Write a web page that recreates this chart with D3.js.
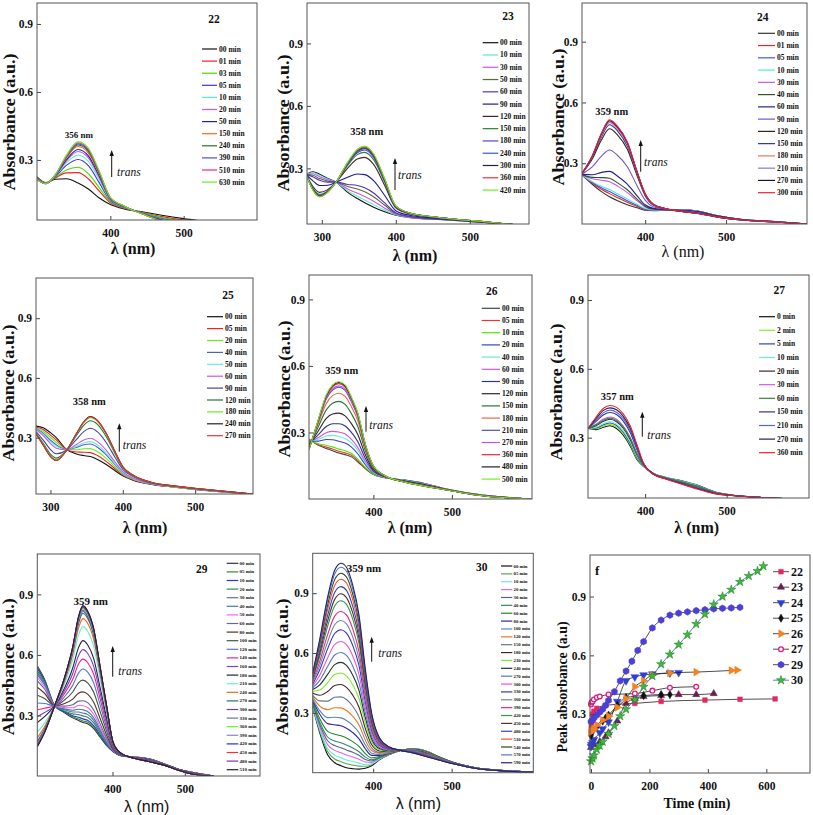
<!DOCTYPE html>
<html><head><meta charset="utf-8">
<script src="https://cdn.jsdelivr.net/npm/d3@7"></script>
<style>body{margin:0;background:#fff}svg{display:block}</style>
</head><body><svg id="c" width="813" height="815"></svg>
<script>
// ---------- DATA ----------
const wl22 = [300, 312, 325, 340, 356, 370, 385, 400, 420, 445, 470, 500, 530];
const lab22 = ["00 min","01 min","03 min","05 min","10 min","20 min","50 min","150 min","240 min","390 min","510 min","630 min"];
const abs22 = [
[0.225,0.200,0.215,0.217,0.198,0.172,0.132,0.103,0.083,0.070,0.056,0.041,0.028],
[0.222,0.199,0.220,0.243,0.244,0.217,0.162,0.111,0.086,0.068,0.050,0.035,0.022],
[0.220,0.198,0.223,0.256,0.268,0.240,0.177,0.115,0.088,0.066,0.046,0.031,0.019],
[0.218,0.197,0.226,0.276,0.302,0.275,0.199,0.121,0.090,0.064,0.041,0.026,0.015],
[0.217,0.197,0.229,0.287,0.322,0.294,0.212,0.125,0.091,0.063,0.038,0.023,0.012],
[0.216,0.196,0.230,0.295,0.337,0.309,0.222,0.127,0.092,0.062,0.036,0.021,0.011],
[0.215,0.196,0.231,0.300,0.346,0.318,0.228,0.129,0.093,0.062,0.035,0.020,0.009],
[0.214,0.196,0.233,0.308,0.359,0.330,0.236,0.131,0.094,0.061,0.033,0.018,0.008],
[0.214,0.195,0.233,0.312,0.366,0.338,0.241,0.132,0.094,0.061,0.032,0.017,0.007],
[0.214,0.195,0.234,0.314,0.371,0.342,0.244,0.133,0.094,0.061,0.031,0.016,0.006],
[0.213,0.195,0.234,0.317,0.376,0.347,0.247,0.134,0.095,0.060,0.031,0.016,0.006],
[0.213,0.195,0.235,0.320,0.381,0.352,0.250,0.135,0.095,0.060,0.030,0.015,0.005]];
const col22 = ["#111111","#ee2222","#44dd00","#4433cc","#55eecc","#cc55ee","#222299","#ff6622","#227722","#4455dd","#ee2288","#66ee22"];

const wl23 = [280, 288, 297, 308, 320, 335, 348, 358, 370, 385, 400, 420, 450, 480, 520, 560];
const lab23 = ["00 min","10 min","30 min","50 min","60 min","90 min","120 min","150 min","180 min","240 min","300 min","360 min","420 min"];
const abs23 = [
[0.272,0.284,0.272,0.252,0.232,0.185,0.155,0.135,0.114,0.092,0.075,0.063,0.056,0.050,0.040,0.030],
[0.271,0.280,0.267,0.249,0.232,0.192,0.166,0.148,0.126,0.100,0.077,0.064,0.057,0.050,0.040,0.030],
[0.271,0.274,0.260,0.245,0.233,0.201,0.181,0.165,0.142,0.109,0.080,0.065,0.057,0.051,0.040,0.030],
[0.270,0.267,0.251,0.239,0.233,0.213,0.201,0.188,0.164,0.123,0.084,0.067,0.058,0.051,0.041,0.030],
[0.269,0.260,0.243,0.234,0.234,0.223,0.218,0.207,0.182,0.134,0.087,0.069,0.059,0.052,0.041,0.030],
[0.266,0.240,0.218,0.219,0.235,0.257,0.273,0.270,0.241,0.170,0.097,0.074,0.062,0.053,0.042,0.030],
[0.262,0.213,0.185,0.198,0.237,0.301,0.345,0.353,0.319,0.218,0.111,0.081,0.066,0.055,0.043,0.030],
[0.261,0.205,0.175,0.192,0.237,0.314,0.366,0.377,0.342,0.233,0.115,0.083,0.067,0.055,0.044,0.030],
[0.261,0.201,0.171,0.190,0.238,0.320,0.375,0.388,0.352,0.239,0.117,0.083,0.067,0.056,0.044,0.030],
[0.261,0.199,0.168,0.188,0.238,0.323,0.381,0.395,0.358,0.243,0.118,0.084,0.067,0.056,0.044,0.030],
[0.260,0.198,0.166,0.187,0.238,0.326,0.385,0.399,0.362,0.245,0.119,0.084,0.068,0.056,0.044,0.030],
[0.260,0.196,0.165,0.186,0.238,0.328,0.388,0.403,0.366,0.248,0.119,0.085,0.068,0.056,0.044,0.030],
[0.260,0.195,0.163,0.185,0.238,0.330,0.392,0.407,0.370,0.250,0.120,0.085,0.068,0.056,0.044,0.030]];
const col23 = ["#111111","#55eecc","#cc55ee","#5a6b3a","#5533bb","#1a1a99","#4a2424","#228833","#5544cc","#3355dd","#222244","#ee3333","#66ee22"];

const wl24 = [322, 335, 346, 356, 366, 378, 390, 400, 410, 425, 445, 465, 490, 520, 560, 600];
const lab24 = ["00 min","01 min","05 min","10 min","30 min","40 min","60 min","90 min","120 min","150 min","180 min","210 min","270 min","300 min"];
const abs24 = [
[0.242,0.195,0.160,0.135,0.115,0.095,0.080,0.068,0.066,0.068,0.070,0.064,0.040,0.022,0.012,0.0],
[0.242,0.201,0.172,0.150,0.130,0.107,0.087,0.071,0.067,0.068,0.070,0.064,0.040,0.022,0.012,0.0],
[0.243,0.205,0.179,0.160,0.139,0.115,0.092,0.073,0.068,0.069,0.069,0.063,0.040,0.022,0.012,0.0],
[0.243,0.208,0.186,0.170,0.149,0.124,0.097,0.076,0.069,0.069,0.069,0.063,0.039,0.022,0.012,0.0],
[0.244,0.223,0.216,0.209,0.187,0.155,0.115,0.084,0.072,0.070,0.068,0.062,0.039,0.022,0.012,0.0],
[0.244,0.230,0.229,0.226,0.203,0.169,0.123,0.088,0.074,0.070,0.068,0.061,0.039,0.022,0.012,0.0],
[0.245,0.243,0.255,0.260,0.236,0.197,0.139,0.095,0.077,0.071,0.067,0.060,0.038,0.021,0.011,0.0],
[0.247,0.283,0.335,0.365,0.338,0.283,0.189,0.118,0.085,0.073,0.065,0.057,0.036,0.021,0.011,0.0],
[0.249,0.323,0.415,0.470,0.439,0.369,0.239,0.140,0.094,0.075,0.063,0.053,0.035,0.020,0.010,0.0],
[0.249,0.331,0.430,0.490,0.459,0.385,0.249,0.145,0.096,0.075,0.063,0.053,0.034,0.020,0.010,0.0],
[0.250,0.335,0.437,0.500,0.468,0.394,0.253,0.147,0.097,0.076,0.062,0.052,0.034,0.020,0.010,0.0],
[0.250,0.337,0.441,0.505,0.473,0.398,0.256,0.148,0.097,0.076,0.062,0.052,0.034,0.020,0.010,0.0],
[0.250,0.338,0.445,0.510,0.478,0.402,0.258,0.149,0.098,0.076,0.062,0.052,0.034,0.020,0.010,0.0],
[0.250,0.340,0.448,0.514,0.482,0.405,0.260,0.150,0.098,0.076,0.062,0.052,0.034,0.020,0.010,0.0]];
const col24 = ["#333333","#ee2222","#4455dd","#55eecc","#cc55ee","#335522","#222288","#7755cc","#3a2222","#2233bb","#ee7755","#8877cc","#111144","#ee2233"];

const wl25 = [280, 290, 300, 308, 322, 336, 346, 355, 365, 377, 389, 400, 415, 440, 470, 510, 580];
const lab25 = ["00 min","05 min","20 min","40 min","50 min","60 min","90 min","120 min","180 min","240 min","270 min"];
const abs25 = [
[0.358,0.350,0.325,0.300,0.242,0.218,0.210,0.205,0.190,0.165,0.135,0.108,0.085,0.065,0.052,0.036,0.016],
[0.354,0.341,0.313,0.289,0.241,0.228,0.227,0.225,0.210,0.181,0.145,0.113,0.088,0.066,0.053,0.037,0.016],
[0.350,0.332,0.301,0.277,0.241,0.239,0.244,0.245,0.229,0.196,0.154,0.117,0.090,0.067,0.053,0.037,0.016],
[0.346,0.322,0.287,0.264,0.240,0.251,0.264,0.268,0.252,0.214,0.166,0.122,0.093,0.068,0.054,0.038,0.016],
[0.344,0.317,0.280,0.257,0.239,0.257,0.273,0.280,0.263,0.224,0.171,0.125,0.094,0.069,0.054,0.038,0.016],
[0.341,0.310,0.270,0.247,0.239,0.266,0.288,0.297,0.280,0.237,0.179,0.129,0.096,0.070,0.055,0.039,0.016],
[0.331,0.288,0.240,0.219,0.237,0.291,0.330,0.347,0.329,0.276,0.203,0.140,0.103,0.072,0.056,0.040,0.017],
[0.324,0.271,0.217,0.197,0.236,0.311,0.362,0.385,0.367,0.306,0.222,0.149,0.107,0.074,0.057,0.041,0.017],
[0.321,0.265,0.209,0.188,0.235,0.319,0.375,0.400,0.381,0.317,0.229,0.153,0.109,0.075,0.058,0.042,0.017],
[0.320,0.262,0.205,0.185,0.235,0.322,0.380,0.406,0.387,0.322,0.232,0.154,0.110,0.075,0.058,0.042,0.017],
[0.320,0.263,0.206,0.186,0.235,0.321,0.378,0.404,0.385,0.321,0.231,0.154,0.110,0.075,0.058,0.042,0.017]];
const col25 = ["#111111","#ee2222","#66ee22","#4466bb","#66eedd","#cc55ee","#444499","#227744","#66ee22","#222222","#ee3333"];

const wl26 = [318, 330, 340, 348, 356, 364, 372, 380, 390, 400, 415, 440, 465, 490, 530, 600];
const lab26 = ["00 min","05 min","10 min","20 min","40 min","60 min","90 min","120 min","150 min","180 min","210 min","270 min","360 min","480 min","500 min"];
const abs26 = [
[0.270,0.242,0.228,0.218,0.207,0.200,0.190,0.168,0.136,0.110,0.096,0.085,0.070,0.047,0.022,0.0],
[0.269,0.245,0.234,0.225,0.215,0.208,0.197,0.174,0.139,0.111,0.096,0.085,0.070,0.047,0.022,0.0],
[0.267,0.249,0.242,0.235,0.225,0.218,0.205,0.180,0.142,0.112,0.097,0.085,0.069,0.047,0.022,0.0],
[0.262,0.261,0.268,0.267,0.260,0.252,0.234,0.204,0.154,0.117,0.097,0.084,0.068,0.046,0.021,0.0],
[0.259,0.269,0.284,0.287,0.282,0.273,0.253,0.220,0.161,0.119,0.098,0.083,0.067,0.046,0.021,0.0],
[0.256,0.277,0.299,0.305,0.302,0.293,0.269,0.233,0.168,0.122,0.099,0.082,0.066,0.046,0.021,0.0],
[0.250,0.290,0.327,0.339,0.339,0.329,0.300,0.259,0.181,0.126,0.100,0.081,0.065,0.045,0.020,0.0],
[0.243,0.308,0.363,0.383,0.387,0.375,0.340,0.292,0.197,0.132,0.101,0.080,0.063,0.045,0.020,0.0],
[0.235,0.327,0.402,0.432,0.440,0.427,0.385,0.328,0.215,0.139,0.102,0.079,0.061,0.044,0.019,0.0],
[0.230,0.341,0.430,0.466,0.477,0.463,0.416,0.354,0.227,0.143,0.104,0.077,0.060,0.044,0.019,0.0],
[0.226,0.351,0.451,0.491,0.504,0.490,0.438,0.372,0.236,0.147,0.104,0.077,0.059,0.043,0.018,0.0],
[0.225,0.353,0.455,0.497,0.510,0.495,0.443,0.376,0.238,0.148,0.104,0.077,0.059,0.043,0.018,0.0],
[0.223,0.356,0.462,0.506,0.520,0.505,0.452,0.383,0.242,0.149,0.105,0.076,0.058,0.043,0.018,0.0],
[0.223,0.358,0.466,0.511,0.525,0.510,0.456,0.387,0.243,0.149,0.105,0.076,0.058,0.043,0.018,0.0],
[0.222,0.360,0.470,0.515,0.530,0.515,0.460,0.390,0.245,0.150,0.105,0.076,0.058,0.043,0.018,0.0]];
const col26 = ["#444444","#ee3333","#44ee00","#3344cc","#66eecc","#cc55ee","#333388","#332233","#227733","#ee6644","#4455bb","#bb55ee","#ee2244","#222222","#77ee22"];

const wl27 = [330, 340, 349, 357, 365, 373, 382, 390, 398, 410, 425, 445, 465, 485, 510, 540, 600];
const lab27 = ["0 min","2 min","5 min","10 min","20 min","30 min","60 min","150 min","210 min","270 min","360 min"];
const abs27 = [
[0.340,0.335,0.345,0.352,0.340,0.312,0.262,0.205,0.175,0.145,0.127,0.112,0.092,0.064,0.048,0.040,0.030],
[0.340,0.339,0.351,0.358,0.346,0.318,0.268,0.209,0.176,0.145,0.127,0.111,0.091,0.063,0.048,0.040,0.030],
[0.340,0.342,0.356,0.364,0.353,0.325,0.274,0.214,0.177,0.144,0.126,0.110,0.090,0.063,0.048,0.040,0.030],
[0.340,0.346,0.362,0.370,0.359,0.331,0.280,0.218,0.178,0.144,0.126,0.109,0.089,0.062,0.048,0.040,0.030],
[0.340,0.352,0.371,0.380,0.369,0.342,0.290,0.226,0.180,0.143,0.125,0.107,0.087,0.061,0.048,0.040,0.030],
[0.340,0.359,0.381,0.390,0.380,0.352,0.300,0.233,0.181,0.143,0.124,0.106,0.085,0.061,0.048,0.040,0.030],
[0.340,0.356,0.376,0.385,0.374,0.347,0.295,0.229,0.181,0.143,0.124,0.106,0.086,0.061,0.048,0.040,0.030],
[0.340,0.371,0.400,0.410,0.401,0.373,0.320,0.248,0.185,0.142,0.122,0.102,0.081,0.059,0.047,0.040,0.030],
[0.340,0.378,0.409,0.420,0.411,0.384,0.330,0.255,0.187,0.141,0.122,0.100,0.079,0.058,0.047,0.040,0.030],
[0.340,0.384,0.419,0.430,0.422,0.394,0.340,0.263,0.188,0.141,0.121,0.099,0.077,0.057,0.047,0.040,0.030],
[0.340,0.390,0.428,0.440,0.432,0.405,0.350,0.270,0.190,0.140,0.120,0.097,0.075,0.056,0.047,0.040,0.030]];
const col27 = ["#111111","#88ee22","#3344bb","#66eedd","#442233","#cc55ee","#338833","#333399","#5566cc","#222255","#ee2233"];

const wl29 = [296, 306, 320, 333, 345, 353, 359, 366, 374, 383, 392, 401, 412, 430, 450, 470, 490, 510, 540];
const lab29 = ["00 min","05 min","10 min","20 min","30 min","40 min","50 min","60 min","80 min","100 min","120 min","140 min","160 min","180 min","210 min","240 min","270 min","300 min","330 min","360 min","390 min","420 min","450 min","480 min","510 min"];
const abs29 = [
[0.545,0.480,0.348,0.315,0.288,0.275,0.265,0.258,0.235,0.192,0.150,0.120,0.100,0.094,0.085,0.062,0.035,0.018,0],
[0.539,0.476,0.348,0.317,0.293,0.282,0.273,0.266,0.242,0.197,0.153,0.121,0.100,0.094,0.085,0.062,0.035,0.018,0],
[0.533,0.472,0.348,0.320,0.299,0.291,0.283,0.275,0.250,0.203,0.156,0.121,0.100,0.094,0.085,0.062,0.035,0.018,0],
[0.522,0.465,0.348,0.324,0.308,0.304,0.298,0.290,0.263,0.212,0.161,0.123,0.101,0.094,0.084,0.062,0.035,0.018,0],
[0.512,0.458,0.348,0.329,0.317,0.317,0.312,0.304,0.276,0.221,0.166,0.124,0.101,0.094,0.084,0.061,0.035,0.017,0],
[0.502,0.451,0.348,0.333,0.326,0.331,0.328,0.318,0.288,0.230,0.171,0.125,0.101,0.093,0.084,0.061,0.034,0.017,0],
[0.488,0.442,0.348,0.339,0.338,0.349,0.348,0.338,0.306,0.242,0.178,0.126,0.102,0.093,0.083,0.061,0.034,0.017,0],
[0.471,0.431,0.348,0.346,0.353,0.371,0.373,0.362,0.327,0.257,0.186,0.128,0.102,0.093,0.083,0.061,0.034,0.017,0],
[0.440,0.410,0.348,0.358,0.381,0.410,0.417,0.404,0.365,0.284,0.201,0.132,0.103,0.092,0.082,0.060,0.034,0.016,0],
[0.400,0.384,0.348,0.375,0.416,0.462,0.475,0.460,0.415,0.318,0.221,0.136,0.104,0.092,0.080,0.059,0.033,0.015,0],
[0.362,0.359,0.348,0.390,0.449,0.510,0.530,0.513,0.461,0.351,0.239,0.141,0.105,0.091,0.079,0.059,0.033,0.014,0],
[0.328,0.336,0.348,0.405,0.479,0.555,0.579,0.560,0.504,0.381,0.256,0.144,0.107,0.091,0.078,0.058,0.032,0.014,0],
[0.295,0.315,0.348,0.418,0.508,0.596,0.626,0.606,0.544,0.409,0.272,0.148,0.107,0.090,0.077,0.058,0.032,0.013,0],
[0.265,0.294,0.348,0.431,0.535,0.636,0.671,0.648,0.582,0.436,0.287,0.152,0.108,0.090,0.076,0.057,0.031,0.012,0],
[0.217,0.262,0.348,0.450,0.577,0.698,0.740,0.715,0.641,0.478,0.310,0.157,0.110,0.089,0.074,0.056,0.031,0.011,0],
[0.189,0.244,0.348,0.462,0.601,0.733,0.780,0.754,0.676,0.502,0.324,0.160,0.111,0.089,0.073,0.056,0.031,0.011,0],
[0.172,0.233,0.348,0.469,0.616,0.755,0.805,0.778,0.697,0.517,0.332,0.162,0.111,0.088,0.073,0.055,0.030,0.011,0],
[0.165,0.228,0.348,0.472,0.622,0.764,0.815,0.787,0.705,0.523,0.335,0.163,0.111,0.088,0.073,0.055,0.030,0.010,0],
[0.160,0.225,0.348,0.474,0.627,0.770,0.822,0.794,0.711,0.527,0.338,0.163,0.112,0.088,0.072,0.055,0.030,0.010,0],
[0.156,0.222,0.348,0.476,0.630,0.776,0.828,0.800,0.717,0.531,0.340,0.164,0.112,0.088,0.072,0.055,0.030,0.010,0],
[0.153,0.220,0.348,0.477,0.633,0.780,0.833,0.804,0.721,0.533,0.341,0.164,0.112,0.088,0.072,0.055,0.030,0.010,0],
[0.150,0.218,0.348,0.478,0.636,0.784,0.837,0.808,0.724,0.536,0.343,0.164,0.112,0.088,0.072,0.055,0.030,0.010,0],
[0.148,0.217,0.348,0.479,0.638,0.786,0.840,0.811,0.727,0.538,0.344,0.165,0.112,0.088,0.072,0.055,0.030,0.010,0],
[0.146,0.216,0.348,0.480,0.639,0.788,0.842,0.813,0.729,0.539,0.344,0.165,0.112,0.088,0.072,0.055,0.030,0.010,0],
[0.145,0.215,0.348,0.480,0.640,0.790,0.844,0.815,0.730,0.540,0.345,0.165,0.112,0.088,0.072,0.055,0.030,0.010,0]];
const col29 = ["#333333","#338833","#3333cc","#338866","#557799","#4477bb","#ee66ee","#666699","#553322","#445544","#5577cc","#ee2288","#7744cc","#222244","#66eedd","#ee6622","#227766","#6644aa","#667799","#66ee22","#8888cc","#2233cc","#ee3333","#7733bb","#222222"];

const wl30 = [323, 332, 342, 351, 359, 366, 374, 382, 390, 398, 408, 420, 435, 452, 468, 485, 505, 530, 570, 603];
const lab30 = ["00 min","05 min","10 min","20 min","30 min","40 min","60 min","80 min","100 min","120 min","150 min","180 min","210 min","240 min","270 min","300 min","330 min","360 min","390 min","420 min","450 min","480 min","510 min","540 min","570 min","590 min"];
const abs30 = [
[0.330,0.200,0.090,0.050,0.035,0.025,0.020,0.018,0.022,0.035,0.065,0.090,0.112,0.120,0.108,0.078,0.048,0.025,0.010,0.003],
[0.333,0.209,0.106,0.069,0.055,0.045,0.038,0.033,0.032,0.040,0.067,0.091,0.112,0.120,0.107,0.078,0.048,0.025,0.010,0.003],
[0.337,0.218,0.121,0.088,0.075,0.064,0.056,0.048,0.041,0.045,0.069,0.092,0.112,0.119,0.107,0.077,0.048,0.025,0.010,0.003],
[0.341,0.230,0.141,0.112,0.100,0.089,0.079,0.067,0.054,0.052,0.072,0.093,0.112,0.119,0.106,0.077,0.048,0.025,0.010,0.003],
[0.345,0.242,0.160,0.136,0.125,0.114,0.102,0.087,0.066,0.059,0.075,0.094,0.112,0.118,0.106,0.077,0.047,0.025,0.010,0.003],
[0.349,0.253,0.179,0.159,0.150,0.139,0.124,0.105,0.078,0.065,0.077,0.095,0.112,0.118,0.105,0.076,0.047,0.025,0.010,0.003],
[0.355,0.270,0.207,0.193,0.185,0.174,0.156,0.132,0.096,0.074,0.081,0.096,0.112,0.117,0.104,0.076,0.047,0.025,0.010,0.003],
[0.363,0.293,0.246,0.240,0.235,0.223,0.201,0.170,0.120,0.087,0.087,0.098,0.112,0.116,0.102,0.075,0.047,0.024,0.010,0.003],
[0.370,0.311,0.276,0.278,0.275,0.262,0.237,0.200,0.140,0.098,0.091,0.099,0.112,0.115,0.101,0.074,0.047,0.024,0.010,0.003],
[0.379,0.334,0.316,0.326,0.325,0.312,0.283,0.239,0.164,0.111,0.096,0.101,0.112,0.114,0.100,0.073,0.046,0.024,0.009,0.003],
[0.388,0.360,0.359,0.378,0.380,0.367,0.333,0.280,0.191,0.125,0.102,0.104,0.112,0.113,0.098,0.073,0.046,0.024,0.009,0.003],
[0.398,0.388,0.407,0.437,0.442,0.428,0.389,0.328,0.222,0.141,0.109,0.106,0.112,0.111,0.097,0.072,0.046,0.024,0.009,0.003],
[0.408,0.415,0.452,0.492,0.500,0.485,0.441,0.372,0.250,0.156,0.115,0.108,0.112,0.110,0.095,0.071,0.045,0.024,0.009,0.003],
[0.417,0.440,0.493,0.542,0.553,0.538,0.489,0.412,0.276,0.170,0.121,0.110,0.112,0.109,0.094,0.070,0.045,0.023,0.009,0.003],
[0.425,0.463,0.532,0.590,0.603,0.588,0.535,0.450,0.301,0.183,0.127,0.112,0.112,0.108,0.092,0.069,0.045,0.023,0.009,0.003],
[0.434,0.489,0.575,0.643,0.658,0.642,0.585,0.492,0.328,0.198,0.133,0.115,0.112,0.106,0.091,0.068,0.044,0.023,0.009,0.003],
[0.444,0.516,0.621,0.698,0.717,0.700,0.638,0.537,0.357,0.213,0.139,0.117,0.112,0.105,0.089,0.067,0.044,0.023,0.009,0.003],
[0.452,0.537,0.656,0.742,0.763,0.746,0.680,0.571,0.379,0.225,0.144,0.119,0.112,0.104,0.088,0.067,0.044,0.023,0.009,0.003],
[0.460,0.558,0.692,0.785,0.808,0.791,0.721,0.606,0.401,0.237,0.149,0.120,0.112,0.103,0.087,0.066,0.043,0.023,0.008,0.003],
[0.469,0.583,0.734,0.836,0.862,0.844,0.770,0.647,0.428,0.251,0.155,0.123,0.112,0.102,0.085,0.065,0.043,0.023,0.008,0.003],
[0.474,0.599,0.761,0.869,0.897,0.878,0.801,0.673,0.445,0.260,0.158,0.124,0.112,0.101,0.084,0.064,0.043,0.022,0.008,0.003],
[0.480,0.616,0.789,0.904,0.933,0.914,0.834,0.701,0.463,0.270,0.162,0.125,0.112,0.101,0.083,0.064,0.043,0.022,0.008,0.003],
[0.487,0.633,0.818,0.939,0.970,0.951,0.867,0.729,0.481,0.279,0.166,0.127,0.112,0.100,0.082,0.063,0.042,0.022,0.008,0.003],
[0.492,0.647,0.841,0.968,1.000,0.981,0.895,0.752,0.496,0.287,0.170,0.128,0.112,0.099,0.081,0.063,0.042,0.022,0.008,0.003],
[0.497,0.661,0.864,0.996,1.030,1.010,0.922,0.775,0.510,0.295,0.173,0.129,0.112,0.098,0.081,0.062,0.042,0.022,0.008,0.003],
[0.500,0.670,0.880,1.015,1.050,1.030,0.940,0.790,0.520,0.300,0.175,0.130,0.112,0.098,0.080,0.062,0.042,0.022,0.008,0.003]];
const col30 = ["#111111","#55aa55","#66eedd","#dd66ee","#556688","#338866","#228822","#3322aa","#5588bb","#ee7722","#667788","#442222","#77ee22","#223333","#5577cc","#ee55cc","#3333cc","#6688aa","#ee2288","#339944","#553333","#3344bb","#ee5533","#334422","#5577cc","#222266"];

// panel f : peak absorbance vs time
const fNames = ["22","23","24","25","26","27","29","30"];
const fT22 = [0,1,3,5,10,20,50,150,240,390,510,630];
const fV22 = [0.21,0.24,0.265,0.30,0.315,0.33,0.345,0.355,0.365,0.372,0.376,0.378];
const fT23 = [0,10,30,50,60,90,120,150,180,240,300,360,420];
const fV23 = [0.13,0.145,0.16,0.185,0.205,0.265,0.355,0.38,0.39,0.395,0.40,0.40,0.405];
const fT24 = [0,1,5,10,30,40,60,90,120,150,180,210,270,300];
const fV24 = [0.135,0.145,0.155,0.17,0.205,0.225,0.26,0.365,0.47,0.49,0.50,0.505,0.51,0.512];
const fT25 = [0,5,20,40,50,60,90,120,180,240,270];
const fV25 = [0.19,0.21,0.235,0.265,0.28,0.295,0.345,0.385,0.395,0.40,0.40];
const fT26 = [0,5,10,20,40,60,90,120,150,180,210,270,360,480,500];
const fV26 = [0.21,0.215,0.225,0.245,0.27,0.29,0.335,0.38,0.44,0.47,0.50,0.51,0.515,0.523,0.525];
const fT27 = [0,2,5,10,20,30,60,150,210,270,360];
const fV27 = [0.35,0.36,0.365,0.375,0.385,0.39,0.40,0.405,0.42,0.435,0.44];
const fT29 = [0,5,10,20,30,40,50,60,80,100,120,140,160,180,210,240,270,300,330,360,390,420,450,480,510];
const fV29 = [0.262,0.27,0.28,0.295,0.31,0.325,0.345,0.37,0.415,0.47,0.52,0.57,0.625,0.67,0.74,0.78,0.805,0.815,0.822,0.828,0.833,0.837,0.84,0.842,0.845];
const fT30 = [0,5,10,20,30,40,60,80,100,120,150,180,210,240,270,300,330,360,390,420,450,480,510,540,570,590];
const fV30 = [0.06,0.075,0.09,0.12,0.14,0.16,0.2,0.24,0.29,0.325,0.375,0.44,0.495,0.555,0.605,0.655,0.705,0.76,0.81,0.86,0.90,0.935,0.975,1.005,1.03,1.055];

// ---------- DRAWING ----------
const svg = d3.select('#c');
svg.append('rect').attr('width',813).attr('height',815).attr('fill','#fff');
const SERIF = '"Liberation Serif","Times New Roman",serif';
const SANS = '"Liberation Sans",Arial,sans-serif';

function frameAndAxes(g, c, x, y, xt, yt, fmtX) {
  g.append('g').attr('transform', `translate(0,${c.B})`)
    .call(d3.axisBottom(x).tickValues(xt).tickSize(-4).tickPadding(c.xpad || 9).tickFormat(fmtX))
    .call(s => { s.select('.domain').remove();
      s.selectAll('line').attr('stroke', '#444');
      s.selectAll('text').attr('font-family', SERIF).attr('font-weight', 'bold').attr('font-size', 11.5).attr('fill', '#111'); });
  g.append('g').attr('transform', `translate(${c.L},0)`)
    .call(d3.axisLeft(y).tickValues(yt).tickSize(-4).tickPadding(4).tickFormat(d3.format('.1f')))
    .call(s => { s.select('.domain').remove();
      s.selectAll('line').attr('stroke', '#444');
      s.selectAll('text').attr('font-family', SERIF).attr('font-weight', 'bold').attr('font-size', 11.5).attr('fill', '#111'); });
  g.append('rect').attr('x', c.L).attr('y', c.T).attr('width', c.R - c.L).attr('height', c.B - c.T)
    .attr('fill', 'none').attr('stroke', '#555').attr('stroke-width', 1);
}

function spectra(c, wl, rows, labels, colors) {
  const g = svg.append('g');
  const x = d3.scaleLinear().domain(c.xd).range([c.L, c.R]);
  const y = d3.scaleLinear().domain(c.yd).range([c.B, c.T]);
  const cid = 'clip' + c.title;
  svg.append('clipPath').attr('id', cid).append('rect')
    .attr('x', c.L).attr('y', c.T).attr('width', c.R - c.L).attr('height', c.B - c.T);
  const line = d3.line().x((d, i) => x(wl[i])).y(d => y(d)).curve(d3.curveMonotoneX);
  g.append('g').attr('clip-path', `url(#${cid})`).selectAll('path').data(rows).join('path')
    .attr('d', line).attr('fill', 'none').attr('stroke', (d, i) => colors[i]).attr('stroke-width', 1.1);
  frameAndAxes(g, c, x, y, c.xt, [0.3, 0.6, 0.9], d3.format('d'));
  g.append('text').attr('x', c.xl[0]).attr('y', c.xl[1]).attr('text-anchor', 'middle').attr('dominant-baseline', 'central')
    .attr('font-family', c.xlFont === 'sans' ? SANS : SERIF).attr('font-weight', c.xlFont === 'bold' ? 'bold' : 'normal')
    .attr('font-size', 16).attr('fill', '#111').text('λ (nm)');
  g.append('text').attr('transform', `translate(${c.yl[0]},${c.yl[1]}) rotate(-90)`).attr('text-anchor', 'middle')
    .attr('dominant-baseline', 'central').attr('font-family', SERIF).attr('font-weight', 'bold').attr('font-size', 16)
    .attr('textLength', 137).attr('lengthAdjust', 'spacingAndGlyphs').attr('fill', '#111').text('Absorbance (a.u.)');
  g.append('text').attr('x', c.tt[0]).attr('y', c.tt[1]).attr('text-anchor', 'middle').attr('dominant-baseline', 'central')
    .attr('font-family', SERIF).attr('font-weight', 'bold').attr('font-size', 11.5).attr('fill', '#111').text(c.title);
  const lg = g.append('g');
  labels.forEach((t, i) => {
    const yy = c.lg.y0 + i * c.lg.step;
    lg.append('line').attr('x1', c.lg.x0).attr('x2', c.lg.x1).attr('y1', yy).attr('y2', yy)
      .attr('stroke', colors[i]).attr('stroke-width', 1.2);
    lg.append('text').attr('x', c.lg.tx).attr('y', yy).attr('dominant-baseline', 'central')
      .attr('font-family', SERIF).attr('font-weight', 'bold').attr('font-size', c.lg.fs).attr('fill', '#111').text(t);
  });
  g.append('text').attr('x', c.pk[0]).attr('y', c.pk[1]).attr('text-anchor', 'middle').attr('dominant-baseline', 'central')
    .attr('font-family', SERIF).attr('font-weight', 'bold').attr('font-size', c.pk[2]).attr('fill', '#111').text(c.pkText);
  g.append('line').attr('x1', c.ar[0]).attr('x2', c.ar[0]).attr('y1', c.ar[1]).attr('y2', c.ar[2] + 4)
    .attr('stroke', '#111').attr('stroke-width', 1);
  g.append('path').attr('d', `M${c.ar[0]},${c.ar[2]} l-2.2,6 l4.4,0 z`).attr('fill', '#111');
  g.append('text').attr('x', c.tr[0]).attr('y', c.tr[1]).attr('dominant-baseline', 'central')
    .attr('font-family', SERIF).attr('font-style', 'italic').attr('font-size', 11.5).attr('fill', '#111').text('trans');
}

spectra({title:'22', L:37, R:257, T:3, B:220, xd:[300,600], yd:[0.035,0.9925], xt:[400,500],
  xl:[133,248], xlFont:'bold', yl:[9,122], tt:[214,19], lg:{x0:202,x1:217,tx:219,y0:49,step:12.1,fs:7.5},
  pk:[79,135,9], pkText:'356 nm', ar:[111.7,177,150], tr:[117,172]}, wl22, abs22, lab22, col22);
spectra({title:'23', L:307, R:529, T:3, B:224, xd:[280,580], yd:[0.033,1.094], xt:[300,400,500],
  xl:[415,255], xlFont:'bold', yl:[283,123], tt:[508,16], lg:{x0:482.7,x1:498.3,tx:500,y0:42.7,step:12.28,fs:7.5},
  pk:[366.7,131.7,10.5], pkText:'358 nm', ar:[395,190,158], tr:[398,175]}, wl23, abs23, lab23, col23);
spectra({title:'24', L:582, R:807, T:3, B:224, xd:[322,600], yd:[0,1.091], xt:[400,500],
  xl:[683,251], xlFont:'serif', yl:[558,117], tt:[762.7,16.7], lg:{x0:758,x1:775,tx:777,y0:33.3,step:12.26,fs:7.5},
  pk:[611.7,111.7,10.5], pkText:'359 nm', ar:[640.7,171.7,140], tr:[644,162]}, wl24, abs24, lab24, col24);
spectra({title:'25', L:36, R:253, T:278, B:494, xd:[280,580], yd:[0.017,1.102], xt:[300,400,500],
  xl:[145,527], xlFont:'bold', yl:[8.3,393], tt:[228,295], lg:{x0:207,x1:223,tx:225,y0:316.7,step:11.9,fs:7.5},
  pk:[89.3,401.7,10.5], pkText:'358 nm', ar:[119.3,451.7,423.3], tr:[122.7,445]}, wl25, abs25, lab25, col25);
spectra({title:'26', L:309, R:532, T:275, B:499, xd:[318,602], yd:[0,1.01], xt:[400,500],
  xl:[410,527], xlFont:'bold', yl:[284,389], tt:[491.7,290.7], lg:{x0:481.7,x1:500,tx:502,y0:308.3,step:12.2,fs:7.5},
  pk:[341.7,370,10.5], pkText:'359 nm', ar:[366,431.7,406], tr:[369.3,425]}, wl26, abs26, lab26, col26);
spectra({title:'27', L:588, R:809, T:275, B:498, xd:[330,601], yd:[0.037,1.009], xt:[400,500],
  xl:[696.7,527], xlFont:'bold', yl:[556.7,392], tt:[779.3,290], lg:{x0:759,x1:775,tx:777,y0:316.7,step:13.6,fs:7.5},
  pk:[617.3,396.7,10.5], pkText:'357 nm', ar:[642.3,436.7,411.7], tr:[647.3,435]}, wl27, abs27, lab27, col27);
spectra({title:'29', L:37.3, R:260, T:554, B:776, xd:[296,604], yd:[0,1.1], xt:[400,500],
  xl:[146.7,806.7], xlFont:'sans', yl:[8.3,666.7], tt:[201.7,569.3], lg:{x0:226.7,x1:238.3,tx:239.5,y0:563.3,step:8.6,fs:5},
  pk:[90.7,601,11], pkText:'359 nm', ar:[112.7,676.7,646], tr:[118.3,670.7]}, wl29, abs29, lab29, col29);
spectra({title:'30', L:312.7, R:533.3, T:553.3, B:772.7, xd:[323,604], yd:[0,1.1], xt:[400,500],
  xl:[418.3,803.3], xlFont:'sans', yl:[282.7,667], tt:[481.7,567.3], lg:{x0:501,x1:512.3,tx:513.5,y0:566,step:7.87,fs:4.8},
  pk:[364,568.3,11], pkText:'359 nm', ar:[371.7,661.7,636.7], tr:[378.3,653.3]}, wl30, abs30, lab30, col30);

// ---- panel f ----
(function(){
  const c = {L:590, R:810, T:555, B:773, xpad:9};
  const x = d3.scaleLinear().domain([-3.4, 749.5]).range([c.L, c.R]);
  const y = d3.scaleLinear().domain([0, 1.112]).range([c.B, c.T]);
  const g = svg.append('g');
  const hexagon = { draw(ctx, size) { const r = Math.sqrt(size / 2.598);
    for (let k = 0; k < 6; k++) { const a = Math.PI / 6 + k * Math.PI / 3;
      if (k === 0) ctx.moveTo(r * Math.cos(a), r * Math.sin(a)); else ctx.lineTo(r * Math.cos(a), r * Math.sin(a)); }
    ctx.closePath(); } };
  const series = [
    {t:fT22, v:fV22, sym:d3.symbolSquare, size:22, rot:0, fill:'#e8265e', stroke:'#e8265e', line:'#222'},
    {t:fT23, v:fV23, sym:d3.symbolTriangle, size:22, rot:0, fill:'#6b1d4f', stroke:'#6b1d4f', line:'#222'},
    {t:fT24, v:fV24, sym:d3.symbolTriangle, size:26, rot:180, fill:'#2f3ed6', stroke:'#2f3ed6', line:'#222'},
    {t:fT25, v:fV25, sym:d3.symbolDiamond, size:20, rot:0, fill:'#111', stroke:'#111', line:'#222'},
    {t:fT26, v:fV26, sym:d3.symbolTriangle, size:26, rot:90, fill:'#f58220', stroke:'#f58220', line:'#222'},
    {t:fT27, v:fV27, sym:d3.symbolCircle, size:18, rot:0, fill:'#fff', stroke:'#e6177f', line:'#222'},
    {t:fT29, v:fV29, sym:hexagon, size:30, rot:0, fill:'#4b3fd8', stroke:'#4b3fd8', line:'#222'},
    {t:fT30, v:fV30, sym:d3.symbolStar, size:26, rot:0, fill:'#3cba3c', stroke:'#1f7a1f', line:'#3355cc'}];
  const line = d3.line().x(d => x(d[0])).y(d => y(d[1])).curve(d3.curveMonotoneX);
  series.forEach(s => {
    const pts = s.t.map((t, i) => [t, s.v[i]]);
    g.append('path').attr('d', line(pts)).attr('fill', 'none').attr('stroke', s.line).attr('stroke-width', 0.8);
    g.selectAll(null).data(pts).join('path')
      .attr('transform', d => `translate(${x(d[0])},${y(d[1])}) rotate(${s.rot})`)
      .attr('d', d3.symbol(s.sym, s.size)).attr('fill', s.fill).attr('stroke', s.stroke)
      .attr('stroke-width', s.sym === d3.symbolCircle ? 1.3 : 0.5);
  });
  frameAndAxes(g, c, x, y, [0, 200, 400, 600], [0.3, 0.6, 0.9], d3.format('d'));
  g.append('text').attr('x', 697).attr('y', 803).attr('text-anchor', 'middle').attr('dominant-baseline', 'central')
    .attr('font-family', SERIF).attr('font-weight', 'bold').attr('font-size', 14).attr('fill', '#111').text('Time (min)');
  g.append('text').attr('transform', 'translate(562,687) rotate(-90)').attr('text-anchor', 'middle')
    .attr('dominant-baseline', 'central').attr('font-family', SERIF).attr('font-weight', 'bold').attr('font-size', 14.5)
    .attr('textLength', 131).attr('lengthAdjust', 'spacingAndGlyphs').attr('fill', '#111').text('Peak absorbance (a.u)');
  g.append('text').attr('x', 595).attr('y', 570).attr('dominant-baseline', 'central')
    .attr('font-family', SERIF).attr('font-weight', 'bold').attr('font-size', 13).attr('fill', '#111').text('f');
  series.forEach((s, i) => {
    const yy = 571.7 + i * 15.5;
    g.append('line').attr('x1', 773).attr('x2', 789).attr('y1', yy).attr('y2', yy).attr('stroke', s.line).attr('stroke-width', 0.8);
    g.append('path').attr('transform', `translate(781,${yy}) rotate(${s.rot})`).attr('d', d3.symbol(s.sym, s.size))
      .attr('fill', s.fill).attr('stroke', s.stroke).attr('stroke-width', s.sym === d3.symbolCircle ? 1.3 : 0.5);
    g.append('text').attr('x', 791).attr('y', yy).attr('dominant-baseline', 'central').attr('font-family', SERIF)
      .attr('font-weight', 'bold').attr('font-size', 12).attr('fill', '#111').text(fNames[i]);
  });
})();
</script>
</body></html>
